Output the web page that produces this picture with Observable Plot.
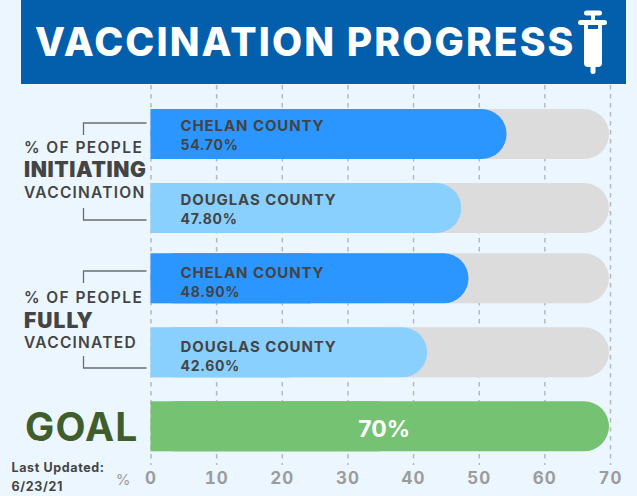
<!DOCTYPE html>
<html><head><meta charset="utf-8">
<script src="https://cdn.jsdelivr.net/npm/d3@7"></script>
<script src="https://cdn.jsdelivr.net/npm/@observablehq/plot@0.6"></script>
<style>
html,body{margin:0;padding:0;background:#ebf6ff;overflow:hidden;width:637px;height:496px}
#banner{position:relative;margin-left:21px;width:605px;height:84px;background:#035eab}
#banner h1{position:absolute;left:14px;top:16px;margin:0;font:800 39px/52px Inter,sans-serif;color:#fff;letter-spacing:2.1px;white-space:nowrap}
#banner svg{position:absolute;left:557px;top:10px}
#chart svg{display:block}
text[aria-label="ls09"]{letter-spacing:.09em}
text[aria-label="ls08"]{letter-spacing:.08em}
text[aria-label="ls06"]{letter-spacing:.06em}
text[aria-label="ls05"]{letter-spacing:.05em}
text[aria-label="ls03"]{letter-spacing:.03em}
g[aria-label="x-axis tick label"] text{letter-spacing:.06em}
</style></head><body>
<div id="banner"><h1>VACCINATION PROGRESS</h1>
<svg width="30" height="64" viewBox="0 0 30 64" fill="#fff"><rect x="6" y="0.500" width="18" height="5" rx="2.500"/><rect x="13" y="4" width="4" height="7"/><rect x="0" y="10" width="29" height="5" rx="2.500"/><path d="M6 14H24V53Q24 57 20 57H10Q6 57 6 53Z M10 14V19H20V14Z" fill-rule="evenodd"/><rect x="12.500" y="52" width="5" height="12" rx="2.500"/></svg></div>
<div id="chart"></div>
<script>
const rows = ["init-chelan", "init-douglas", "full-chelan", "full-douglas", "goal"];
const countyNames = ["CHELAN COUNTY", "DOUGLAS COUNTY", "CHELAN COUNTY", "DOUGLAS COUNTY"];
const percents = [54.7, 47.8, 48.9, 42.6];
const goalValue = 70;
const ticks = [0, 10, 20, 30, 40, 50, 60, 70];
const colors = ["#2b96ff", "#8ad0ff", "#2b96ff", "#8ad0ff"];
const font = "Inter, sans-serif";

const data = percents.map((v, i) => ({row: rows[i], county: countyNames[i], value: v, color: colors[i]}));
const goal = [{row: rows[4], value: goalValue}];
const upper = data.slice(0, 2), lower = data.slice(2);
const ls = name => () => name;

function track(d, dy, textDy) {
  return [
    Plot.barX(d, {x1: 0, x2: 70, y: "row", fill: "#dcdcdc", rx: 25, insetRight: 1, dy}),
    Plot.barX(d, {x1: 0, x2: 35, y: "row", fill: "#dcdcdc", dy}),
    Plot.barX(d, {x1: 0, x2: "value", y: "row", fill: "color", rx: 25, insetRight: 3, dy}),
    Plot.barX(d, {x1: 0, x2: v => v.value / 2, y: "row", fill: "color", dy}),
    Plot.text(d, {x: 0, y: "row", text: "county", dx: 29.5, dy: textDy - 9, textAnchor: "start", fill: "#444", fontSize: 15, fontWeight: 700, ariaLabel: ls("ls06")}),
    Plot.text(d, {x: 0, y: "row", text: v => v.value.toFixed(2) + "%", dx: 29.5, dy: textDy + 10, textAnchor: "start", fill: "#444", fontSize: 14, fontWeight: 700, ariaLabel: ls("ls05")})
  ];
}
function sideLabel(row, lines, dys, sizes, weights, spacing) {
  return lines.map((t, i) => Plot.text([t], {x: 0, y: () => row, text: d => d, dx: -127, dy: dys[i], textAnchor: "start",
    fill: "#444", fontSize: sizes[i], fontWeight: weights[i], ariaLabel: ls(spacing[i])}));
}
// bracket connecting a side label to its two bars
function brackets(_, {x, y}) {
  const g = d3.create("svg:g").attr("fill", "none").attr("stroke", "#6d6d6d").attr("stroke-width", 1.3);
  const x0 = x(0), c = r => y(r) + y.bandwidth() / 2;
  [[c(rows[0]), c(rows[1])], [c(rows[2]), c(rows[3])]].forEach(([a, b]) => {
    g.append("path").attr("d", `M${x0 - 4} ${a - 11}H${x0 - 67}V${a + 1}`);
    g.append("path").attr("d", `M${x0 - 4} ${b + 12}H${x0 - 67}V${b}`);
  });
  return g.node();
}

const plot = Plot.plot({
  width: 637, height: 412,
  marginTop: 1, marginBottom: 31, marginLeft: 0, marginRight: 0,
  style: {background: "transparent", fontFamily: font},
  x: {domain: [0, 70], range: [150.5, 610]},
  y: {domain: rows, range: [25, 373.5], padding: 0.322, paddingOuter: 0, align: 0, axis: null},
  marks: [
    Plot.ruleX(ticks, {stroke: "#b9b9b9", strokeWidth: 1.5, strokeDasharray: "4.5,4.5"}),
    Plot.axisX(ticks, {anchor: "bottom", tickSize: 0, tickPadding: 6, label: null, fill: "#9c9c9c", fontSize: 17, fontWeight: 700}),
    ...track(upper, 0, 1),
    ...track(lower, -3.7, 0),
    Plot.barX(goal, {x1: 0, x2: "value", y: "row", fill: "#76c273", rx: 25, insetRight: 1, dy: -3.7}),
    Plot.barX(goal, {x1: 0, x2: v => v.value / 2, y: "row", fill: "#76c273", dy: -3.7}),
    Plot.text(goal, {x: 35, y: "row", text: v => v.value + "%", dx: 3.5, dy: -1, fill: "#fff", fontSize: 23, fontWeight: 700}),
    ...sideLabel(rows[0], ["% OF PEOPLE", "INITIATING", "VACCINATION"], [14, 36, 59], [15.5, 21, 15.5], [600, 900, 600], ["ls09", "ls03", "ls08"]),
    ...sideLabel(rows[2], ["% OF PEOPLE", "FULLY", "VACCINATED"], [15.5, 38.5, 60.5], [15.5, 21, 15.5], [600, 900, 600], ["ls09", "ls05", "ls08"]),
    Plot.text(["GOAL"], {x: 0, y: () => rows[4], text: d => d, dx: -126, dy: -2, textAnchor: "start", fill: "#3f5e2b", fontSize: 39, fontWeight: 700, ariaLabel: ls("ls03")}),
    Plot.text(["%"], {x: 0, frameAnchor: "bottom", text: d => d, dx: -28, dy: 19, fill: "#9c9c9c", fontSize: 15}),
    Plot.text(["Last Updated:\n6/23/21"], {x: 0, frameAnchor: "bottom", text: d => d, dx: -139.5, dy: 25, textAnchor: "start", fill: "#444", fontSize: 12.5, fontWeight: 700, lineHeight: 1.5, ariaLabel: ls("ls05")}),
    brackets
  ]
});
document.getElementById("chart").append(plot);
</script>
</body></html>
